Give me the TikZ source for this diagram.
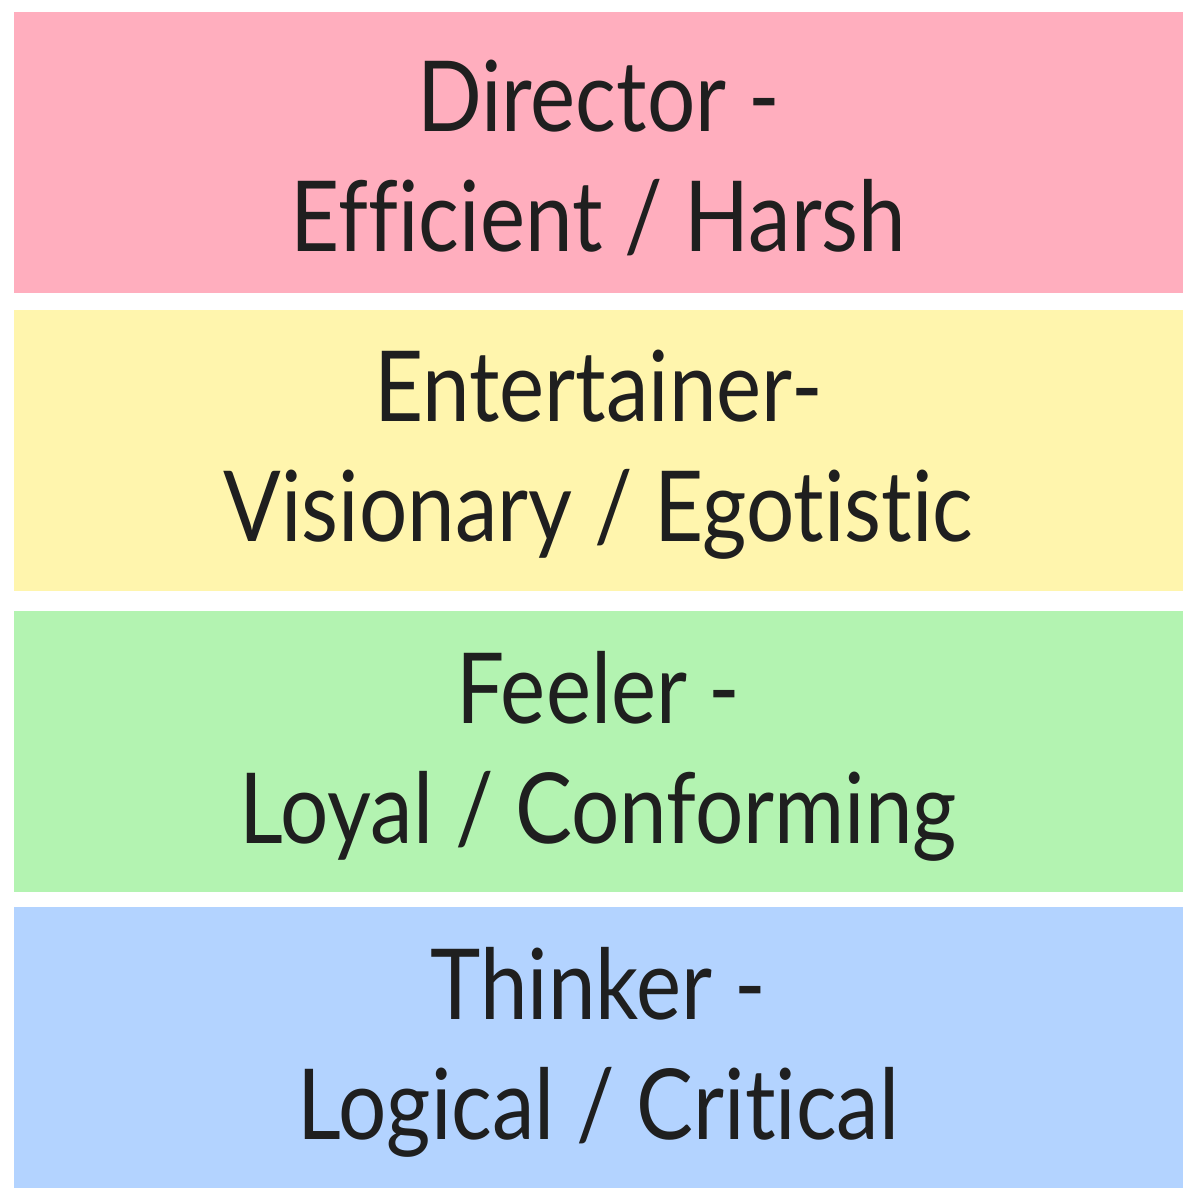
\documentclass[tikz,border=0pt]{standalone}
\usepackage{fontspec}
\setmainfont[FakeStretch=0.87,Ligatures=NoCommon]{Lato}
\definecolor{cpink}{HTML}{FFAEBE}
\definecolor{cyellow}{HTML}{FFF5AD}
\definecolor{cgreen}{HTML}{B3F3B1}
\definecolor{cblue}{HTML}{B3D3FF}
\definecolor{ctext}{HTML}{1F1F1F}
\tikzset{txt/.style={inner sep=0pt,text=ctext,align=center,font=\fontsize{98pt}{120pt}\selectfont}}
\begin{document}
\begin{tikzpicture}[x=1pt,y=-1pt,
  band/.style={draw=none,minimum width=1169pt,minimum height=281pt,inner sep=0pt}]
\useasboundingbox[fill=white] (0,0) rectangle (1200,1200);
\node[band,fill=cpink]   (dir) at (598.5,152.5) {};
\node[band,fill=cyellow] (ent) at (598.5,450) {};
\node[band,fill=cgreen]  (fee) at (598.5,751.5) {};
\node[band,fill=cblue]   (thi) at (598.5,1047.5) {};
\node[txt] (tdir) at ([yshift=-5pt]dir.center) {Director -\\Efficient / Harsh};
\node[txt] (tent) at ([yshift=-5pt]ent.center) {Entertainer-\\Visionary / Egotistic};
\node[txt] (tfee) at ([yshift=-5pt]fee.center) {Feeler -\\Loyal / Conforming};
\node[txt] (tthi) at ([yshift=-5pt]thi.center) {Thinker -\\Logical / Critical};
\end{tikzpicture}
\end{document}
